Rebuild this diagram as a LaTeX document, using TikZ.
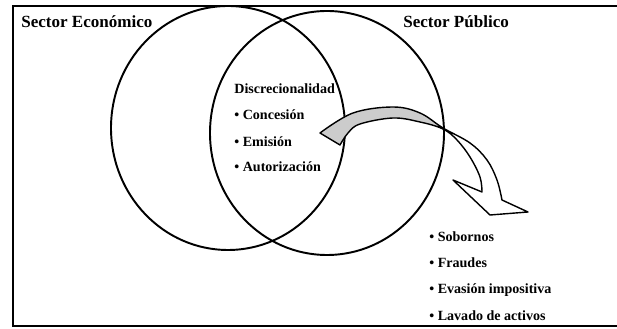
\documentclass[tikz,border=0pt]{standalone}
\usepackage{fontspec}
\setmainfont{Liberation Serif}
\tikzset{
  conjunto/.style={line width=1.1pt},
  marco/.style={line width=1.2pt},
  etiqueta/.style={anchor=west, inner sep=0pt, font=\fontsize{8}{9.6}\selectfont\bfseries},
  titulo/.style={anchor=west, inner sep=0pt, font=\fontsize{9.7}{11.6}\selectfont\bfseries},
  flechalinea/.style={line width=0.8pt, line join=round}
}
\newcommand{\flechacamino}{(6.40,3.92) -- plot[smooth, tension=0.6] coordinates {(6.40,3.92) (7.06,4.32) (7.86,4.44) (8.40,4.32) (8.86,4.02) (9.40,3.72) (9.74,3.38) (9.94,2.98) (10.04,2.58)} -- (10.56,2.34) -- (9.80,2.28) -- (9.06,2.98) -- (9.64,2.74) -- plot[smooth, tension=0.6] coordinates {(9.64,2.74) (9.60,3.04) (9.40,3.44) (9.14,3.78) (8.86,4.00) (8.40,4.14) (7.86,4.22) (7.20,4.10) (6.96,3.92) (6.80,3.68)} -- cycle}
\begin{document}
\begin{tikzpicture}
            \useasboundingbox (0,0) rectangle (12.34,6.58);
            \draw [marco] (12.5,6.46) -- (0.26,6.46) -- (0.26,0.06) -- (12.5,0.06);
            \draw [conjunto] (4.56,4.02) ellipse (2.34 and 2.44);
            \draw [conjunto] (6.54,3.92) ellipse (2.34 and 2.44);
            % flecha
            \begin{scope}
              \clip (6.54,3.92) ellipse (2.34 and 2.44);
              \fill [black!20] \flechacamino;
            \end{scope}
            \draw [flechalinea] \flechacamino;
            \node [titulo] (secEco) at (0.42, 6.14) {Sector Económico};
            \node [titulo] (secPub) at (8.06, 6.14) {Sector Público};
            \node [etiqueta] (disc) at (4.68, 4.80) {Discrecionalidad};
            \node [etiqueta] (conc) at (4.68, 4.28) {• Concesión};
            \node [etiqueta] (emis) at (4.68, 3.74) {• Emisión};
            \node [etiqueta] (auto) at (4.68, 3.24) {• Autorización};
            \node [etiqueta] (sob) at (8.58, 1.84) {• Sobornos};
            \node [etiqueta] (fra) at (8.58, 1.32) {• Fraudes};
            \node [etiqueta] (eva) at (8.58, 0.78) {• Evasión impositiva};
            \node [etiqueta] (lav) at (8.58, 0.26) {• Lavado de activos};
        \end{tikzpicture}
\end{document}
